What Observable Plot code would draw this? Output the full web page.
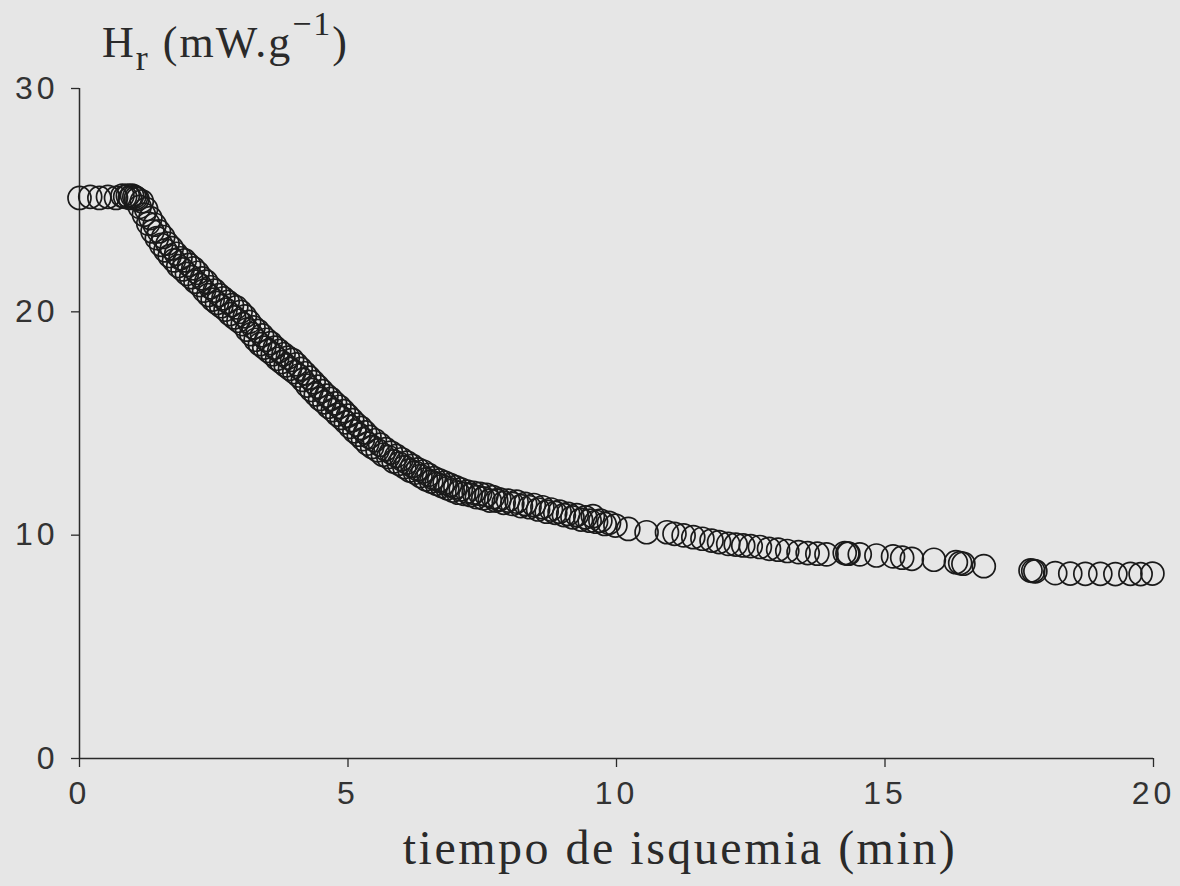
<!DOCTYPE html>
<html>
<head>
<meta charset="utf-8">
<script src="https://cdn.jsdelivr.net/npm/d3@7"></script>
<script src="https://cdn.jsdelivr.net/npm/@observablehq/plot@0.6"></script>
<style>
  html, body { margin: 0; padding: 0; background: #e6e6e6; }
  #chart svg { display: block; }
</style>
</head>
<body>
<div id="chart"></div>
<script>
// time (min)
const tiempo = [
  0.00, 0.20, 0.37, 0.53, 0.68, 0.80, 0.85, 0.90, 0.94, 0.98, 1.02, 1.05,
  1.08, 1.12, 1.16, 1.20, 1.24, 1.28, 1.32, 1.36, 1.40, 1.44, 1.48, 1.52, 1.56, 1.60,
  1.64, 1.68, 1.72, 1.76, 1.80, 1.84, 1.88, 1.92, 1.96, 2.00, 2.04, 2.08, 2.12, 2.16,
  2.20, 2.24, 2.28, 2.32, 2.36, 2.40, 2.44, 2.48, 2.52, 2.56, 2.60, 2.64, 2.68, 2.72,
  2.76, 2.80, 2.84, 2.88, 2.92, 2.96, 3.00, 3.04, 3.08, 3.12, 3.16, 3.20, 3.24, 3.28,
  3.32, 3.36, 3.40, 3.44, 3.48, 3.52, 3.56, 3.60, 3.64, 3.68, 3.72, 3.76, 3.80, 3.84,
  3.88, 3.92, 3.96, 4.00, 4.04, 4.08, 4.12, 4.16, 4.20, 4.24, 4.28, 4.32, 4.36, 4.40,
  4.44, 4.48, 4.52, 4.56, 4.60, 4.64, 4.68, 4.72, 4.76, 4.80, 4.84, 4.88, 4.92, 4.96,
  5.00, 5.04, 5.08, 5.12, 5.16, 5.20, 5.24, 5.28, 5.32, 5.36, 5.40, 5.45, 5.50, 5.55,
  5.60, 5.65, 5.70, 5.75, 5.80, 5.85, 5.90, 5.95, 6.00, 6.05, 6.10, 6.15, 6.20, 6.25,
  6.30, 6.35, 6.40, 6.45, 6.50, 6.55, 6.60, 6.65, 6.70, 6.75, 6.80, 6.85, 6.90, 6.95,
  7.00, 7.05, 7.10, 7.16, 7.22, 7.28, 7.34, 7.40, 7.46, 7.52, 7.58, 7.64, 7.70, 7.76,
  7.82, 7.90, 7.98, 8.06, 8.14, 8.22, 8.30, 8.38, 8.46, 8.54, 8.62, 8.70, 8.78, 8.86,
  8.94, 9.02, 9.10, 9.18, 9.26, 9.34, 9.42, 9.50, 9.56, 9.62, 9.70, 9.78, 9.86,
  9.98, 10.22, 10.56, 10.94, 11.08, 11.25, 11.43, 11.60, 11.77, 11.91, 12.08, 12.22,
  12.36, 12.50, 12.67, 12.84, 13.01, 13.18, 13.39, 13.56, 13.74, 13.91, 14.25, 14.30,
  14.32, 14.53, 14.84, 15.15, 15.32, 15.50, 15.91, 16.32, 16.40, 16.46, 16.84,
  17.71, 17.76, 17.80, 18.17, 18.45, 18.73, 19.01, 19.29, 19.57, 19.76, 19.98
];
// Hr (mW.g-1)
const hr = [
  25.10, 25.15, 25.10, 25.15, 25.10, 25.20, 25.15, 25.20, 25.10, 25.20, 25.15, 25.10,
  25.05, 24.70, 24.95, 24.35, 24.60, 23.95, 24.20, 23.60, 23.90, 23.30, 23.60, 23.00, 23.35, 22.75,
  23.05, 22.50, 22.85, 22.30, 22.60, 22.05, 22.40, 21.90, 22.30, 21.70, 22.10, 21.55, 21.95, 21.35,
  21.75, 21.20, 21.50, 20.95, 21.35, 20.75, 21.10, 20.55, 20.95, 20.40, 20.75, 20.25, 20.60, 20.10,
  20.45, 19.90, 20.30, 19.75, 20.20, 19.60, 20.00, 19.45, 19.80, 19.20, 19.55, 19.00, 19.30, 18.75,
  19.15, 18.55, 18.95, 18.40, 18.75, 18.25, 18.60, 18.10, 18.40, 17.90, 18.25, 17.75, 18.10, 17.60,
  17.95, 17.45, 17.85, 17.30, 17.65, 17.15, 17.45, 16.95, 17.25, 16.70, 17.05, 16.50, 16.85, 16.30,
  16.65, 16.10, 16.45, 15.95, 16.25, 15.75, 16.10, 15.60, 15.90, 15.40, 15.75, 15.25, 15.55, 15.05,
  15.35, 14.85, 15.15, 14.65, 14.95, 14.50, 14.80, 14.30, 14.60, 14.10, 14.40, 13.95, 14.25, 13.80,
  14.05, 13.60, 13.85, 13.50, 13.70, 13.30, 13.55, 13.20, 13.40, 13.05, 13.25, 12.90, 13.10, 12.80,
  12.95, 12.65, 12.85, 12.50, 12.70, 12.40, 12.55, 12.30, 12.45, 12.20, 12.35, 12.10, 12.25, 12.00,
  12.15, 11.90, 12.05, 11.85, 11.95, 11.80, 11.90, 11.70, 11.85, 11.65, 11.80, 11.55, 11.70, 11.55,
  11.60, 11.45, 11.55, 11.40, 11.50, 11.30, 11.40, 11.25, 11.35, 11.15, 11.25, 11.05, 11.15, 11.00,
  11.05, 10.90, 10.95, 10.80, 10.90, 10.70, 10.80, 10.65, 10.85, 10.60, 10.65, 10.50, 10.55,
  10.43, 10.28, 10.13, 10.13, 10.06, 9.99, 9.91, 9.84, 9.76, 9.69, 9.61, 9.58,
  9.54, 9.51, 9.47, 9.39, 9.35, 9.29, 9.24, 9.20, 9.17, 9.14, 9.20, 9.18,
  9.17, 9.14, 9.09, 9.05, 8.99, 8.94, 8.90, 8.79, 8.75, 8.72, 8.61,
  8.42, 8.40, 8.38, 8.30, 8.28, 8.27, 8.27, 8.26, 8.27, 8.26, 8.28
];
const xTicks = [0, 5, 10, 15, 20];
const yTicks = [0, 10, 20, 30];

const data = tiempo.map((t, i) => ({t, h: hr[i]}));
const ink = "#2a2a2a";

const chart = Plot.plot({
  width: 1180,
  height: 886,
  marginLeft: 79,
  marginRight: 27,
  marginTop: 88,
  marginBottom: 128,
  style: {background: "#e6e6e6", fontFamily: "'Liberation Sans', sans-serif", color: ink},
  x: {domain: [0, 20]},
  y: {domain: [0, 30]},
  marks: [
    Plot.ruleX([0], {y1: 0, y2: 30, stroke: ink, strokeWidth: 1.5}),
    Plot.ruleY([0], {x1: 0, x2: 20, stroke: ink, strokeWidth: 1.5}),
    Plot.axisX({ticks: xTicks, tickSize: 9, tickPadding: 14, label: null, fontSize: 32,
      tickFormat: d => String(d), stroke: ink, strokeWidth: 1.3}),
    Plot.axisY({ticks: yTicks, tickSize: 8, tickPadding: 13, label: null, fontSize: 32,
      tickFormat: d => String(d), stroke: ink, strokeWidth: 1.3}),
    Plot.dot(data, {x: "t", y: "h", r: 11.5, stroke: "#1a1a1a", strokeWidth: 1.7, fill: "none"})
  ]
});

const svg = d3.select(chart);
svg.selectAll("g[aria-label='x-axis tick label'] text, g[aria-label='y-axis tick label'] text")
  .style("letter-spacing", "4px").attr("fill", "#333");

// y axis title: Hr (mW.g^-1)
const yt = svg.append("text")
  .attr("x", 102).attr("y", 57)
  .attr("text-anchor", "start")
  .attr("font-family", "'Liberation Serif', serif")
  .attr("font-size", 44).attr("fill", ink)
  .style("letter-spacing", "2px");
yt.append("tspan").text("H");
yt.append("tspan").attr("dy", 13).attr("font-size", 36).text("r");
yt.append("tspan").attr("dy", -13).text(" (mW.g");
yt.append("tspan").attr("dy", -22).attr("font-size", 34).text("\u22121");
yt.append("tspan").attr("dy", 22).text(")");

// x axis title
svg.append("text")
  .attr("x", 680).attr("y", 864)
  .attr("text-anchor", "middle")
  .attr("font-family", "'Liberation Serif', serif")
  .attr("font-size", 48).attr("fill", ink)
  .style("letter-spacing", "2.5px")
  .text("tiempo de isquemia (min)");

document.getElementById("chart").appendChild(chart);
</script>
</body>
</html>
